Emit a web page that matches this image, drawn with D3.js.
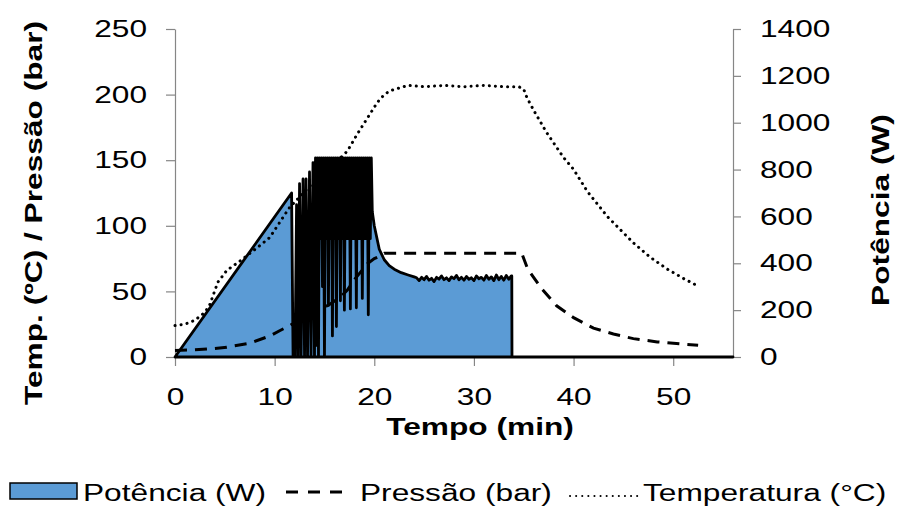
<!DOCTYPE html>
<html lang="pt">
<head>
<meta charset="UTF-8">
<title>Potência, Pressão e Temperatura</title>
<style>
    body { margin: 0; background: #fff; }
    svg text { font-family: "Liberation Sans", Arial, sans-serif; fill: #000; }
    .axis path, .axis line { stroke: #868686; stroke-width: 1.2px; }
</style>
</head>
<body>
<div id="chart"></div>
<script src="https://cdn.jsdelivr.net/npm/d3@7/dist/d3.min.js"></script>
<script>

    // Temperatura (ºC) - eixo esquerdo
    var tempTime = [0, 1, 2, 3, 3.5, 4.3, 5.2, 6.5, 8.2, 9.5, 10.8, 11.5, 12.5, 13.5, 14.5, 15.5, 16.5, 17.3, 18.3, 19.3,
        20.3, 21.0, 21.6, 22.5, 23.4, 25, 27, 29, 31, 33, 34.5, 35.0, 35.3, 36.0, 37.3, 39.0, 40.0, 41.4, 43.4, 44.7,
        46.0, 47.7, 49.4, 51.0, 52.5];
    var tempVal = [24, 25, 28, 34, 40, 57, 66, 73, 83, 91, 106, 114, 122, 130, 138, 145, 151, 157, 170, 182,
        194, 200, 203, 205, 207, 206, 207, 206, 207, 206, 206, 204, 198, 188, 171, 152, 143, 126, 107, 97,
        87, 76, 67, 60, 54];

    // Pressão (bar) - eixo esquerdo
    var presTime = [0, 2, 4, 5.2, 7.5, 9.5, 10.5, 11.5, 12.5, 13.5, 14.2, 15.5, 16.5, 17.3, 17.9, 19.3, 20.0, 20.6, 21.0,
        25, 30, 34.8, 35.4, 36.8, 38.3, 40, 42, 44, 46, 48.4, 50.7, 52.5];
    var presVal = [5, 5.5, 6.5, 7.5, 10.5, 16, 20, 24, 28, 32, 35, 40, 45, 51, 58, 71, 75, 77, 79,
        79, 79, 79, 67, 52, 39, 30, 22, 17.5, 14, 11.5, 10, 9];

    // Potência (W) - eixo direito
    var powTime = [
        0, 11.7, 11.85, 12.05, 12.2, 12.35, 12.5, 12.65, 12.85, 13.0, 13.15, 13.3, 13.5, 13.65, 13.85, 14.0,
        14.1, 14.2, 14.3, 14.4, 14.5, 14.6, 14.7, 14.8, 14.9, 15.0, 15.1, 15.2, 15.3, 15.4, 15.5, 15.6, 15.7, 15.8, 15.9,
        16.0, 16.1, 16.2, 16.3, 16.4, 16.5, 16.6, 16.7, 16.8, 16.9, 17.0, 17.1, 17.2, 17.3, 17.4, 17.5, 17.6, 17.7, 17.8, 17.9,
        18.0, 18.1, 18.2, 18.3, 18.4, 18.5, 18.6, 18.7, 18.8, 18.9, 19.0, 19.1, 19.2, 19.3, 19.4, 19.5, 19.6, 19.7,
        19.8, 20.0, 20.5, 21.0, 21.5, 22.0, 22.7, 23.4, 24.0,
        24.25, 24.5, 24.75, 25, 25.25, 25.5, 25.75, 26, 26.25, 26.5, 26.75, 27, 27.25, 27.5, 27.75, 28,
        28.25, 28.5, 28.75, 29, 29.25, 29.5, 29.75, 30, 30.25, 30.5, 30.75, 31, 31.25, 31.5, 31.75, 32,
        32.25, 32.5, 32.75, 33, 33.25, 33.5, 33.75, 33.8, 33.82, 56];
    var powVal = [
        0, 700, 0, 0, 650, 0, 740, 0, 760, 0, 760, 0, 790, 0, 830, 0,
        850, 50, 850, 0, 850, 505, 850, 300, 850, 0, 850, 505, 850, 220, 850, 505, 850, 90, 850,
        505, 850, 130, 850, 505, 850, 240, 850, 505, 850, 200, 850, 505, 850, 505, 850, 205, 850, 505, 850,
        505, 850, 210, 850, 505, 850, 505, 850, 250, 850, 505, 850, 505, 850, 180, 850, 505, 850,
        620, 560, 460, 415, 390, 375, 360, 350, 342,
        338, 326, 340, 330, 344, 328, 336, 322, 340, 332, 346, 330, 338, 326, 342, 334,
        348, 330, 340, 328, 344, 332, 338, 326, 346, 334, 340, 328, 348, 332, 342, 326,
        350, 330, 344, 328, 348, 332, 346, 346, 0, 0];

    var xTicks = [0, 10, 20, 30, 40, 50];
    var leftTicks = [0, 50, 100, 150, 200, 250];
    var rightTicks = [0, 200, 400, 600, 800, 1000, 1200, 1400];

    var width = 897,
        height = 507;
    var stretch = 1.32; // o texto do original é mais largo que Arial

    var svg = d3.select("#chart").append("svg")
        .attr("width", width)
        .attr("height", height);

    var x = d3.scaleLinear().domain([0, 56]).range([175, 733]);
    var yL = d3.scaleLinear().domain([0, 250]).range([357, 29]);
    var yR = d3.scaleLinear().domain([0, 1400]).range([357, 29]);

    function wide(dx, dy) {
        return "translate(" + dx + "," + dy + ") scale(" + stretch + ",1)";
    }

    // eixos
    var gL = svg.append("g").attr("class", "axis")
        .attr("transform", "translate(" + x(0) + ",0)")
        .call(d3.axisLeft(yL).tickValues(leftTicks).tickSize(9).tickSizeOuter(0));
    gL.selectAll("text").attr("x", 0).attr("transform", wide(-28, 0))
        .style("font-size", "24px").attr("fill", "#000");

    var gR = svg.append("g").attr("class", "axis")
        .attr("transform", "translate(" + x(56) + ",0)")
        .call(d3.axisRight(yR).tickValues(rightTicks).tickFormat(d3.format("d")).tickSize(8).tickSizeOuter(0));
    gR.selectAll("text").attr("x", 0).attr("transform", wide(27, 0))
        .style("font-size", "24px").attr("fill", "#000");

    var gB = svg.append("g").attr("class", "axis")
        .attr("transform", "translate(0," + yL(0) + ")")
        .call(d3.axisBottom(x).tickValues(xTicks).tickSize(9).tickSizeOuter(0));
    gB.selectAll("text").attr("y", 0).attr("dy", 0).attr("transform", wide(0, 48))
        .style("font-size", "24px").attr("fill", "#000");
    svg.selectAll(".axis text").attr("font-family", null);

    // potência (área)
    var powData = d3.zip(powTime, powVal);
    var area = d3.area()
        .x(function (d) { return x(d[0]); })
        .y0(yR(0))
        .y1(function (d) { return yR(d[1]); });

    svg.append("path")
        .datum(powData)
        .attr("d", area)
        .attr("fill", "#5B9BD5")
        .attr("stroke", "#000")
        .attr("stroke-width", 2.8)
        .attr("stroke-linejoin", "round");

    var lineL = d3.line()
        .x(function (d) { return x(d[0]); })
        .y(function (d) { return yL(d[1]); });

    svg.append("path")
        .datum(d3.zip(tempTime, tempVal))
        .attr("d", lineL)
        .attr("fill", "none")
        .attr("stroke", "#000")
        .attr("stroke-width", 3)
        .attr("stroke-linecap", "round")
        .attr("stroke-dasharray", "0.1,6");

    svg.append("path")
        .datum(d3.zip(presTime, presVal))
        .attr("d", lineL)
        .attr("fill", "none")
        .attr("stroke", "#000")
        .attr("stroke-width", 3)
        .attr("stroke-dasharray", "12,8");

    // títulos
    svg.append("text")
        .attr("transform", "translate(42,213) rotate(-90) scale(" + stretch + ",1)")
        .attr("text-anchor", "middle")
        .style("font-size", "24px").style("font-weight", "bold")
        .text("Temp. (ºC) / Pressão (bar)");

    svg.append("text")
        .attr("transform", "translate(889,210) rotate(-90) scale(" + stretch + ",1)")
        .attr("text-anchor", "middle")
        .style("font-size", "24px").style("font-weight", "bold")
        .text("Potência (W)");

    svg.append("text")
        .attr("transform", wide(480, 435))
        .attr("text-anchor", "middle")
        .style("font-size", "24px").style("font-weight", "bold")
        .text("Tempo (min)");

    // legenda
    var leg = svg.append("g");
    leg.append("rect")
        .attr("x", 10).attr("y", 483).attr("width", 67).attr("height", 16)
        .attr("fill", "#5B9BD5").attr("stroke", "#000").attr("stroke-width", 1.5);
    leg.append("text").attr("transform", wide(83, 501))
        .style("font-size", "24px").text("Potência (W)");

    leg.append("line")
        .attr("x1", 286).attr("x2", 343).attr("y1", 492).attr("y2", 492)
        .attr("stroke", "#000").attr("stroke-width", 3).attr("stroke-dasharray", "12,10");
    leg.append("text").attr("transform", wide(360, 501))
        .style("font-size", "24px").text("Pressão (bar)");

    leg.append("line")
        .attr("x1", 570).attr("x2", 639).attr("y1", 496).attr("y2", 496)
        .attr("stroke", "#000").attr("stroke-width", 2).attr("stroke-linecap", "round")
        .attr("stroke-dasharray", "0.1,6");
    leg.append("text").attr("transform", wide(643, 501))
        .style("font-size", "24px").text("Temperatura (°C)");

</script>
</body>
</html>
